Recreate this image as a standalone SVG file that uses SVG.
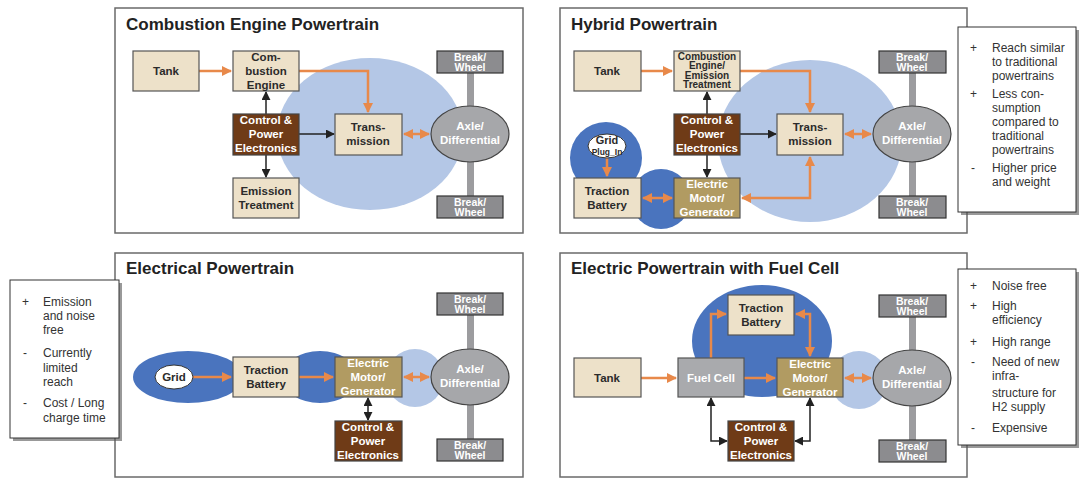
<svg xmlns="http://www.w3.org/2000/svg" width="1084" height="478" viewBox="0 0 1084 478">
<defs>
<marker id="ao" viewBox="0 0 10 10" refX="9" refY="5" markerWidth="4" markerHeight="4" orient="auto-start-reverse" markerUnits="strokeWidth"><path d="M0,0 L10,5 L0,10 z" fill="#E8894A"/></marker>
<marker id="ab" viewBox="0 0 10 10" refX="9" refY="5" markerWidth="6" markerHeight="6" orient="auto-start-reverse" markerUnits="strokeWidth"><path d="M0,0 L10,5 L0,10 z" fill="#222"/></marker>
</defs>
<style>
text{font-family:"Liberation Sans",Arial,sans-serif}
.panel{fill:#fff;stroke:#6a6a6a;stroke-width:1.5}
.title{font-size:17px;font-weight:bold;fill:#222}
.beige{fill:#EDE1C9;stroke:#555;stroke-width:1.2}
.ctrl{fill:#6F3B17;stroke:#444;stroke-width:1.2}
.motor{fill:#B19B62;stroke:#555;stroke-width:1.2}
.fc{fill:#A9AAAD;stroke:#555;stroke-width:1.2}
.bw{fill:#8C8C8F;stroke:#333;stroke-width:1.2}
.axle{fill:#A6A7AA;stroke:#444;stroke-width:1.2}
.bar{fill:#9C9C9F}
.lb{fill:#B4C7E6}
.db{fill:#4A74BE}
.lbl{font-size:11.5px;font-weight:bold;fill:#2b2b2b;text-anchor:middle}
.wl{font-size:11.5px;font-weight:bold;fill:#fff;text-anchor:middle}
.sm{font-size:10px;font-weight:bold;fill:#2b2b2b;text-anchor:middle}
.bwt{font-size:10.5px;font-weight:bold;fill:#fff;text-anchor:middle}
.note{fill:#fff;stroke:#333;stroke-width:1}
.nshadow{fill:#555;opacity:0.6}
.nt{font-size:12px;fill:#333}
.or{fill:none;stroke:#E8894A;stroke-width:2.5}
.bk{fill:none;stroke:#222;stroke-width:1.5}
</style>

<!-- Panels -->
<g id="panel-combustion">
<rect class="panel" x="115" y="8" width="408" height="225"/>
<text class="title" x="126" y="30">Combustion Engine Powertrain</text>
<ellipse class="lb" cx="370" cy="134" rx="93" ry="76"/>
</g>
<g id="panel-hybrid">
<rect class="panel" x="560" y="8" width="407" height="225"/>
<text class="title" x="571" y="30">Hybrid Powertrain</text>
<ellipse class="lb" cx="810" cy="141" rx="92" ry="81"/>
<circle class="db" cx="606" cy="158" r="36"/>
<circle class="db" cx="661" cy="199" r="30"/>
</g>
<g id="panel-electrical">
<rect class="panel" x="115" y="253" width="408" height="224"/>
<text class="title" x="126" y="274">Electrical Powertrain</text>
<ellipse class="db" cx="188" cy="377" rx="55" ry="26"/>
<ellipse class="db" cx="320" cy="377" rx="38" ry="26"/>
<circle class="lb" cx="415" cy="378" r="29"/>
</g>
<g id="panel-fuelcell">
<rect class="panel" x="560" y="253" width="407" height="224"/>
<text class="title" x="571" y="274">Electric Powertrain with Fuel Cell</text>
<ellipse class="db" cx="762" cy="341" rx="70" ry="56"/>
<circle class="lb" cx="859" cy="380" r="29"/>
</g>

<!-- Axles and wheels -->
<g id="axle1">
<rect class="bar" x="467" y="73" width="7" height="123"/>
<g id="bw1a"><rect class="bw" x="437" y="51" width="66" height="22"/><text class="bwt" x="470" y="61">Break/</text><text class="bwt" x="470" y="71">Wheel</text></g>
<g id="bw1b"><rect class="bw" x="437" y="196" width="66" height="22"/><text class="bwt" x="470" y="206">Break/</text><text class="bwt" x="470" y="216">Wheel</text></g>
<g id="ax1"><ellipse class="axle" cx="470" cy="134" rx="39" ry="28"/><text class="wl" x="470" y="130">Axle/</text><text class="wl" x="470" y="144">Differential</text></g>
</g>
<g id="axle2">
<rect class="bar" x="909" y="73" width="7" height="123"/>
<g id="bw2a"><rect class="bw" x="879" y="51" width="67" height="22"/><text class="bwt" x="912" y="61">Break/</text><text class="bwt" x="912" y="71">Wheel</text></g>
<g id="bw2b"><rect class="bw" x="879" y="196" width="67" height="22"/><text class="bwt" x="912" y="206">Break/</text><text class="bwt" x="912" y="216">Wheel</text></g>
<g id="ax2"><ellipse class="axle" cx="912" cy="134" rx="39" ry="28"/><text class="wl" x="912" y="130">Axle/</text><text class="wl" x="912" y="144">Differential</text></g>
</g>
<g id="axle3">
<rect class="bar" x="467" y="315" width="7" height="124"/>
<g id="bw3a"><rect class="bw" x="437" y="293" width="66" height="22"/><text class="bwt" x="470" y="303">Break/</text><text class="bwt" x="470" y="313">Wheel</text></g>
<g id="bw3b"><rect class="bw" x="437" y="439" width="66" height="22"/><text class="bwt" x="470" y="449">Break/</text><text class="bwt" x="470" y="459">Wheel</text></g>
<g id="ax3"><ellipse class="axle" cx="470" cy="377" rx="39" ry="28"/><text class="wl" x="470" y="373">Axle/</text><text class="wl" x="470" y="387">Differential</text></g>
</g>
<g id="axle4">
<rect class="bar" x="909" y="317" width="7" height="123"/>
<g id="bw4a"><rect class="bw" x="879" y="295" width="67" height="22"/><text class="bwt" x="912" y="305">Break/</text><text class="bwt" x="912" y="315">Wheel</text></g>
<g id="bw4b"><rect class="bw" x="879" y="440" width="67" height="22"/><text class="bwt" x="912" y="450">Break/</text><text class="bwt" x="912" y="460">Wheel</text></g>
<g id="ax4"><ellipse class="axle" cx="912" cy="378" rx="39" ry="28"/><text class="wl" x="912" y="374">Axle/</text><text class="wl" x="912" y="388">Differential</text></g>
</g>

<!-- Connectors -->
<g id="connectors">
<!-- panel 1 -->
<line class="or" x1="199" y1="71" x2="231" y2="71" marker-end="url(#ao)"/>
<polyline class="or" points="299,71 368,71 368,112" marker-end="url(#ao)"/>
<line class="bk" x1="266" y1="114" x2="266" y2="92" marker-end="url(#ab)"/>
<line class="bk" x1="266" y1="155" x2="266" y2="177" marker-end="url(#ab)"/>
<line class="bk" x1="299" y1="134" x2="334" y2="134" marker-end="url(#ab)"/>
<line class="or" x1="404" y1="134" x2="429" y2="134" marker-start="url(#ao)" marker-end="url(#ao)"/>
<!-- panel 2 -->
<line class="or" x1="641" y1="71" x2="672" y2="71" marker-end="url(#ao)"/>
<polyline class="or" points="740,71 810,71 810,112" marker-end="url(#ao)"/>
<line class="bk" x1="707" y1="114" x2="707" y2="92" marker-end="url(#ab)"/>
<line class="bk" x1="707" y1="155" x2="707" y2="177" marker-end="url(#ab)"/>
<line class="bk" x1="740" y1="134" x2="776" y2="134" marker-end="url(#ab)"/>
<line class="or" x1="845" y1="134" x2="871" y2="134" marker-start="url(#ao)" marker-end="url(#ao)"/>
<line class="or" x1="607" y1="158" x2="607" y2="176" marker-end="url(#ao)"/>
<line class="or" x1="643" y1="198" x2="672" y2="198" marker-start="url(#ao)" marker-end="url(#ao)"/>
<polyline class="or" points="742,198 810,198 810,157" marker-start="url(#ao)" marker-end="url(#ao)"/>
<!-- panel 3 -->
<line class="or" x1="193" y1="377" x2="231" y2="377" marker-end="url(#ao)"/>
<line class="or" x1="299" y1="377" x2="333" y2="377" marker-end="url(#ao)"/>
<line class="bk" x1="368" y1="398" x2="368" y2="420" marker-start="url(#ab)" marker-end="url(#ab)"/>
<line class="or" x1="404" y1="377" x2="429" y2="377" marker-start="url(#ao)" marker-end="url(#ao)"/>
<!-- panel 4 -->
<line class="or" x1="641" y1="378" x2="676" y2="378" marker-end="url(#ao)"/>
<line class="or" x1="744" y1="378" x2="775" y2="378" marker-end="url(#ao)"/>
<polyline class="or" points="711,358 711,314 726,314" marker-end="url(#ao)"/>
<polyline class="or" points="796,314 810,314 810,356" marker-start="url(#ao)" marker-end="url(#ao)"/>
<polyline class="bk" points="711,398 711,441 727,441" marker-start="url(#ab)" marker-end="url(#ab)"/>
<polyline class="bk" points="810,398 810,441 795,441" marker-start="url(#ab)" marker-end="url(#ab)"/>
<line class="or" x1="845" y1="378" x2="871" y2="378" marker-start="url(#ao)" marker-end="url(#ao)"/>
</g>

<!-- Nodes panel 1 -->
<g id="tank1"><rect class="beige" x="133" y="51" width="66" height="40"/><text class="lbl" x="166" y="75">Tank</text></g>
<g id="engine1"><rect class="beige" x="233" y="51" width="66" height="40"/><text class="lbl" x="266" y="61">Com-</text><text class="lbl" x="266" y="75">bustion</text><text class="lbl" x="266" y="89">Engine</text></g>
<g id="ctrl1"><rect class="ctrl" x="233" y="114" width="66" height="41"/><text class="wl" x="266" y="124">Control &amp;</text><text class="wl" x="266" y="138">Power</text><text class="wl" x="266" y="152">Electronics</text></g>
<g id="emission1"><rect class="beige" x="233" y="178" width="66" height="40"/><text class="lbl" x="266" y="195">Emission</text><text class="lbl" x="266" y="209">Treatment</text></g>
<g id="trans1"><rect class="beige" x="335" y="114" width="67" height="41"/><text class="lbl" x="368" y="131">Trans-</text><text class="lbl" x="368" y="145">mission</text></g>

<!-- Nodes panel 2 -->
<g id="tank2"><rect class="beige" x="574" y="51" width="67" height="40"/><text class="lbl" x="607" y="75">Tank</text></g>
<g id="engine2"><rect class="beige" x="674" y="51" width="66" height="40"/><text class="sm" x="707" y="60">Combustion</text><text class="sm" x="707" y="69">Engine/</text><text class="sm" x="707" y="78.5">Emission</text><text class="sm" x="707" y="87.5">Treatment</text></g>
<g id="ctrl2"><rect class="ctrl" x="674" y="114" width="66" height="41"/><text class="wl" x="707" y="124">Control &amp;</text><text class="wl" x="707" y="138">Power</text><text class="wl" x="707" y="152">Electronics</text></g>
<g id="trans2"><rect class="beige" x="777" y="114" width="66" height="41"/><text class="lbl" x="810" y="131">Trans-</text><text class="lbl" x="810" y="145">mission</text></g>
<g id="grid2"><ellipse cx="607" cy="146" rx="19" ry="12" fill="#fff" stroke="#333" stroke-width="1"/><text x="607" y="144" style="font-size:11px;font-weight:bold;fill:#2b2b2b;text-anchor:middle">Grid</text><text x="607" y="155" style="font-size:8.5px;font-weight:bold;fill:#2b2b2b;text-anchor:middle">Plug_In</text></g>
<g id="battery2"><rect class="beige" x="574" y="178" width="67" height="40"/><text class="lbl" x="607" y="195">Traction</text><text class="lbl" x="607" y="209">Battery</text></g>
<g id="motor2"><rect class="motor" x="674" y="178" width="66" height="40"/><text class="wl" x="707" y="188">Electric</text><text class="wl" x="707" y="202">Motor/</text><text class="wl" x="707" y="216">Generator</text></g>

<!-- Nodes panel 3 -->
<g id="grid3"><ellipse cx="174" cy="377" rx="19" ry="12" fill="#fff" stroke="#333" stroke-width="1"/><text class="lbl" x="174" y="381">Grid</text></g>
<g id="battery3"><rect class="beige" x="233" y="357" width="66" height="40"/><text class="lbl" x="266" y="374">Traction</text><text class="lbl" x="266" y="388">Battery</text></g>
<g id="motor3"><rect class="motor" x="335" y="357" width="67" height="40"/><text class="wl" x="368" y="367">Electric</text><text class="wl" x="368" y="381">Motor/</text><text class="wl" x="368" y="395">Generator</text></g>
<g id="ctrl3"><rect class="ctrl" x="335" y="421" width="67" height="40"/><text class="wl" x="368" y="431">Control &amp;</text><text class="wl" x="368" y="445">Power</text><text class="wl" x="368" y="459">Electronics</text></g>

<!-- Nodes panel 4 -->
<g id="tank4"><rect class="beige" x="574" y="358" width="67" height="39"/><text class="lbl" x="607" y="382">Tank</text></g>
<g id="fuelcell4"><rect class="fc" x="678" y="358" width="66" height="39"/><text class="wl" x="711" y="382">Fuel Cell</text></g>
<g id="battery4"><rect class="beige" x="728" y="295" width="66" height="40"/><text class="lbl" x="761" y="312">Traction</text><text class="lbl" x="761" y="326">Battery</text></g>
<g id="motor4"><rect class="motor" x="777" y="358" width="66" height="39"/><text class="wl" x="810" y="368">Electric</text><text class="wl" x="810" y="382">Motor/</text><text class="wl" x="810" y="396">Generator</text></g>
<g id="ctrl4"><rect class="ctrl" x="728" y="421" width="66" height="40"/><text class="wl" x="761" y="431">Control &amp;</text><text class="wl" x="761" y="445">Power</text><text class="wl" x="761" y="459">Electronics</text></g>

<!-- Notes -->
<g id="note-hybrid">
<rect class="nshadow" x="961" y="30" width="118" height="185"/>
<rect class="note" x="958" y="27" width="118" height="185"/>
<text class="nt" x="970" y="52">+</text>
<text class="nt" x="992" y="52">Reach similar</text>
<text class="nt" x="992" y="66">to traditional</text>
<text class="nt" x="992" y="80">powertrains</text>
<text class="nt" x="970" y="98">+</text>
<text class="nt" x="992" y="98">Less con-</text>
<text class="nt" x="992" y="112">sumption</text>
<text class="nt" x="992" y="126">compared to</text>
<text class="nt" x="992" y="140">traditional</text>
<text class="nt" x="992" y="154">powertrains</text>
<text class="nt" x="971" y="172">-</text>
<text class="nt" x="992" y="172">Higher price</text>
<text class="nt" x="992" y="186">and weight</text>
</g>
<g id="note-electrical">
<rect class="nshadow" x="13" y="283" width="109" height="158"/>
<rect class="note" x="10" y="280" width="109" height="158"/>
<text class="nt" x="22" y="306">+</text>
<text class="nt" x="43" y="306">Emission</text>
<text class="nt" x="43" y="320">and noise</text>
<text class="nt" x="43" y="334">free</text>
<text class="nt" x="23" y="357">-</text>
<text class="nt" x="43" y="357">Currently</text>
<text class="nt" x="43" y="372">limited</text>
<text class="nt" x="43" y="386">reach</text>
<text class="nt" x="23" y="407">-</text>
<text class="nt" x="43" y="407">Cost / Long</text>
<text class="nt" x="43" y="422">charge time</text>
</g>
<g id="note-fuelcell">
<rect class="nshadow" x="961" y="272" width="118" height="176"/>
<rect class="note" x="958" y="269" width="118" height="176"/>
<text class="nt" x="970" y="290">+</text>
<text class="nt" x="992" y="290">Noise free</text>
<text class="nt" x="970" y="310">+</text>
<text class="nt" x="992" y="310">High</text>
<text class="nt" x="992" y="324">efficiency</text>
<text class="nt" x="970" y="346">+</text>
<text class="nt" x="992" y="346">High range</text>
<text class="nt" x="971" y="366">-</text>
<text class="nt" x="992" y="366">Need of new</text>
<text class="nt" x="992" y="380">infra-</text>
<text class="nt" x="992" y="397">structure for</text>
<text class="nt" x="992" y="411">H2 supply</text>
<text class="nt" x="971" y="432">-</text>
<text class="nt" x="992" y="432">Expensive</text>
</g>
</svg>
